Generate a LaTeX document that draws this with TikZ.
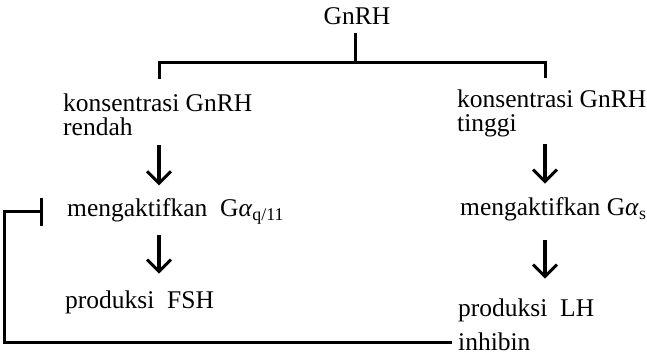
\documentclass[tikz,border=0pt]{standalone}
\usepackage{fontspec}
\setmainfont{Liberation Serif}
\usetikzlibrary{arrows.meta}
\tikzset{
  txt/.style={anchor=base west, inner sep=0pt, align=left, font=\fontsize{25.5}{24}\selectfont},
  line/.style={line width=3pt},
  arr/.style={line width=3.2pt, -{Straight Barb[length=12pt,width=24pt,line width=3pt]}},
  inhib/.style={line width=3pt, -{Bar[width=28pt,line width=3pt]}}
}
\begin{document}
\begin{tikzpicture}[x=1pt,y=-1pt]
\useasboundingbox (0,0) rectangle (647,355);
% Top: GnRH and its two branches
\node[txt, anchor=base] (gnrh) at (357,25) {GnRH};
\coordinate (hub) at (355,63);
\coordinate (L) at (159,79);
\coordinate (R) at (545,78);
\draw[line] (gnrh.south -| hub) ++(0,8) -- (hub);
\draw[line] (L) -- (L |- hub) -- (R |- hub) -- (R);
% Left column
\node[txt] (kr) at (63,136) {konsentrasi GnRH\\rendah};
\node[txt] (mq) at (67,217) {mengaktifkan\ \ G\textit{α}\textsubscript{q/11}};
\node[txt] (pf) at (65,308) {produksi\ \ FSH};
% Right column
\node[txt] (kt) at (457,132) {konsentrasi GnRH\\tinggi};
\node[txt] (ms) at (460,216) {mengaktifkan G\textit{α}\textsubscript{s}};
\node[txt] (pl) at (458,316) {produksi\ \ LH};
\node[txt] (inh) at (458,350) {inhibin};
% Arrows
\draw[arr] (kr.south -| L) ++(0,9) -- ++(0,40);
\draw[arr] (mq.south -| L) ++(0,10) -- ++(0,39);
\draw[arr] (kt.south -| R) ++(0,6) -- ++(0,40);
\draw[arr] (ms.south -| R) ++(0,18) -- ++(0,39);
% Feedback of inhibin
\draw[inhib] ([xshift=-6pt,yshift=-1pt]inh.west) -| ([xshift=-63pt]mq.west) -- ([xshift=-24pt]mq.west);
\end{tikzpicture}
\end{document}
